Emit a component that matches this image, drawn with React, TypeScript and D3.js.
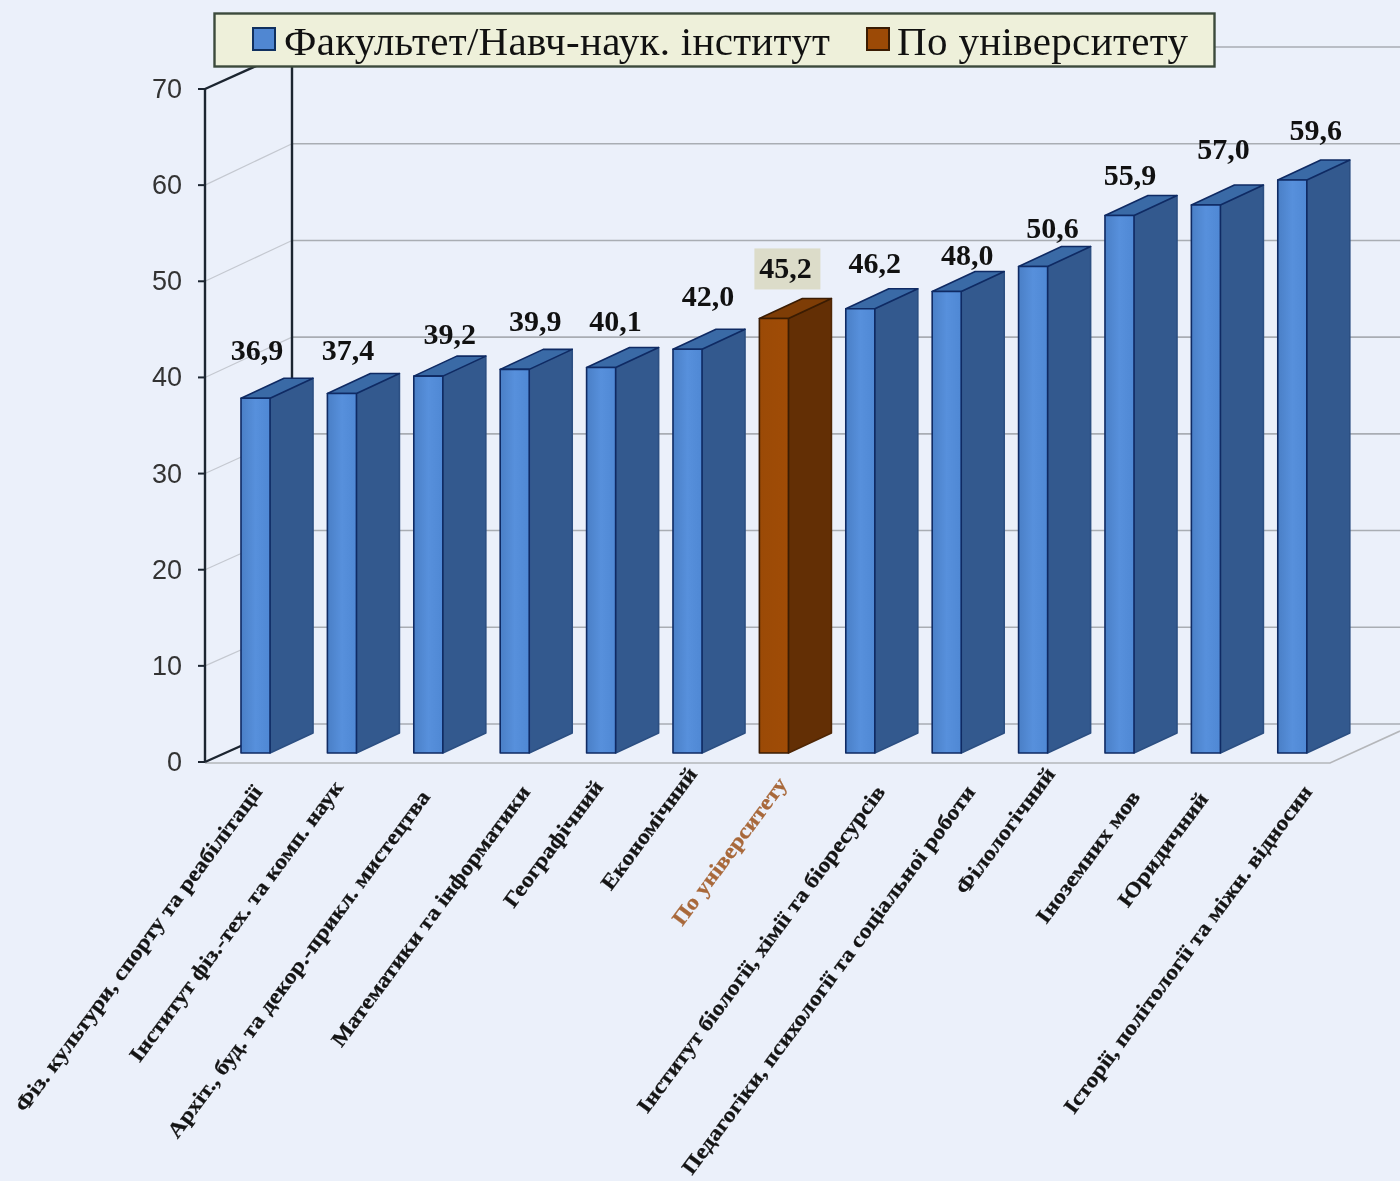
import React from "react";
import * as d3 from "d3";

const categories = [
  "Фіз. культури, спорту та реабілітації",
  "Інститут фіз.-тех. та комп. наук",
  "Архіт., буд. та декор.-прикл. мистецтва",
  "Математики та інформатики",
  "Географічний",
  "Економічний",
  "По університету",
  "Інститут біології, хімії та біоресурсів",
  "Педагогіки, психології та соціальної роботи",
  "Філологічний",
  "Іноземних мов",
  "Юридичний",
  "Історії, політології та міжн. відносин",
];
const values = [36.9, 37.4, 39.2, 39.9, 40.1, 42.0, 45.2, 46.2, 48.0, 50.6, 55.9, 57.0, 59.6];
const yTicks = [0, 10, 20, 30, 40, 50, 60, 70];
const legendLabels = ["Факультет/Навч-наук. інститут", "По університету"];
const highlight = "По університету";

// layout nudges for the hand-placed labels of the original chart
const valueNudgeX = [1.5, 6, 21.5, 20.5, 14.5, 20.5, 11.5, 14.5, 20.5, 19.5, 10.5, 17.5, 23.5];
const valueNudgeY = [38, 33, 32, 38, 36, 43, 40, 36, 27, 29, 31, 46, 40];
const tickEndX = [263, 344, 431, 531, 604, 698, 788, 886, 976, 1056, 1141, 1209, 1313];
const tickEndY = [792, 787, 797, 792, 787, 774, 784, 792, 792, 774, 797, 799, 792];

const SERIF = "'Liberation Serif', serif";
const SANS = "'Liberation Sans', sans-serif";

const y = d3.scaleLinear().domain([0, 70]).range([0, 673]);
const yBack = d3.scaleLinear().domain([0, 70]).range([724, 47]);
const x = d3
  .scaleBand<string>()
  .domain(categories)
  .range([197.8, 1350])
  .paddingInner(0.664)
  .paddingOuter(0.5);

const AXIS_X = 205;
const FRONT0 = 762;
const BACK_DX = 87;
const BAR_BASE = 753;
const DEPTH_X = 43;
const DEPTH_Y = 20;
const FLOOR_END = 1330;

const path = d3.line();

export default function App() {
  const bw = x.bandwidth();
  return (
    <svg
      width={1400}
      height={1181}
      viewBox="0 0 1400 1181"
      style={{ position: "absolute", left: 0, top: 0, display: "block", filter: "blur(0.6px)" }}
    >
      <defs>
        <linearGradient id="blueFront" x1="0" x2="1" y1="0" y2="0">
          <stop offset="0" stopColor="#4a7fc6" />
          <stop offset="0.5" stopColor="#5790dc" />
          <stop offset="1" stopColor="#4f88d4" />
        </linearGradient>
        <linearGradient id="brownFront" x1="0" x2="1" y1="0" y2="0">
          <stop offset="0" stopColor="#9b4a06" />
          <stop offset="1" stopColor="#a04c06" />
        </linearGradient>
      </defs>
      <rect x={0} y={0} width={1400} height={1181} fill="#ebf0fa" />

      {/* back wall grid */}
      {yTicks.map((t) => {
        const fy = FRONT0 - y(t);
        const by = yBack(t);
        return (
          <g key={t} fill="none">
            {t < 70 && (
              <path
                d={path([[AXIS_X, fy], [AXIS_X + BACK_DX, by]]) as string}
                stroke="#c4c8d0"
                strokeWidth={1.2}
              />
            )}
            <line x1={AXIS_X + BACK_DX} x2={1400} y1={by} y2={by} stroke="#a9adb3" strokeWidth={1.6} />
          </g>
        );
      })}

      {/* floor */}
      <path
        d={path([[AXIS_X, FRONT0 + 1], [FLOOR_END, FRONT0 + 1], [1400, FRONT0 - 31]]) as string}
        fill="none"
        stroke="#b4b6ba"
        strokeWidth={1.6}
      />

      {/* axes */}
      <line x1={AXIS_X + BACK_DX} x2={AXIS_X + BACK_DX} y1={50} y2={yBack(0)} stroke="#1c2530" strokeWidth={2.4} />
      <path
        d={path([[AXIS_X, FRONT0 - y(70)], [AXIS_X + 60, FRONT0 - y(70) - 27]]) as string}
        stroke="#1c2530"
        strokeWidth={2.4}
        fill="none"
      />
      <path
        d={path([[AXIS_X, FRONT0], [AXIS_X + 38, FRONT0 - 17]]) as string}
        stroke="#1c2530"
        strokeWidth={2.4}
        fill="none"
      />
      <line x1={AXIS_X} x2={AXIS_X} y1={FRONT0 - y(70)} y2={FRONT0} stroke="#1c2530" strokeWidth={2.4} />
      {yTicks.map((t) => (
        <g key={t}>
          <line x1={AXIS_X - 7} x2={AXIS_X} y1={FRONT0 - y(t)} y2={FRONT0 - y(t)} stroke="#1c2530" strokeWidth={2} />
          <text
            x={182}
            y={FRONT0 - y(t) + 9}
            textAnchor="end"
            fontFamily={SANS}
            fontSize={27}
            fill="#333"
          >
            {t}
          </text>
        </g>
      ))}

      {/* bars */}
      {categories.map((c, i) => {
        const left = x(c) as number;
        const right = left + bw;
        const top = BAR_BASE - y(values[i]);
        const isU = c === highlight;
        const sideFill = isU ? "#632f05" : "#33598e";
        const topFill = isU ? "#7e3d06" : "#3a6aa6";
        const stroke = isU ? "#3a1c03" : "#0f2a63";
        return (
          <g key={c} stroke={stroke} strokeWidth={1.6} strokeLinejoin="round">
            <path
              d={
                path([
                  [right, BAR_BASE],
                  [right + DEPTH_X, BAR_BASE - DEPTH_Y],
                  [right + DEPTH_X, top - DEPTH_Y],
                  [right, top],
                ]) + "Z"
              }
              fill={sideFill}
              stroke={isU ? "#4f2604" : "#2c4f82"}
            />
            <path
              d={
                path([
                  [left, top],
                  [left + DEPTH_X, top - DEPTH_Y],
                  [right + DEPTH_X, top - DEPTH_Y],
                  [right, top],
                ]) + "Z"
              }
              fill={topFill}
            />
            <rect
              x={left}
              y={top}
              width={bw}
              height={BAR_BASE - top}
              fill={isU ? "url(#brownFront)" : "url(#blueFront)"}
            />
          </g>
        );
      })}

      {/* value labels */}
      {categories.map((c, i) => {
        const cx = (x(c) as number) + bw / 2 + valueNudgeX[i];
        const cy = BAR_BASE - y(values[i]) - valueNudgeY[i];
        const isU = c === highlight;
        return (
          <g key={c}>
            {isU && <rect x={cx - 31} y={cy - 30} width={66} height={41} fill="#dcdcc9" />}
            <text
              x={cx}
              y={cy}
              textAnchor="middle"
              fontFamily={SERIF}
              fontWeight="bold"
              fontSize={30}
              fill="#111"
            >
              {values[i].toFixed(1).replace(".", ",")}
            </text>
          </g>
        );
      })}

      {/* category labels */}
      {categories.map((c, i) => {
        const isU = c === highlight;
        const color = isU ? "#a8683a" : "#141414";
        return (
          <text
            key={c}
            transform={`translate(${tickEndX[i]},${tickEndY[i]}) rotate(-53.5) scale(1,0.88)`}
            textAnchor="end"
            fontFamily={SERIF}
            fontWeight="bold"
            fontSize={24.2}
            fill={color}
            stroke={color}
            strokeWidth={0.3}
          >
            {c}
          </text>
        );
      })}

      {/* legend */}
      <rect x={214.5} y={13.5} width={1000} height={53} fill="#eef0da" stroke="#3c4a3c" strokeWidth={2.4} />
      <rect x={253} y={28} width={22} height={22} fill="#5087d2" stroke="#10305f" strokeWidth={2} />
      <text x={284} y={55} fontFamily={SERIF} fontSize={41} fill="#111" textLength={546} lengthAdjust="spacing">
        {legendLabels[0]}
      </text>
      <rect x={867} y={28} width={22} height={22} fill="#9c4a06" stroke="#3a1c03" strokeWidth={2} />
      <text x={897} y={55} fontFamily={SERIF} fontSize={41} fill="#111" textLength={291} lengthAdjust="spacing">
        {legendLabels[1]}
      </text>
    </svg>
  );
}
